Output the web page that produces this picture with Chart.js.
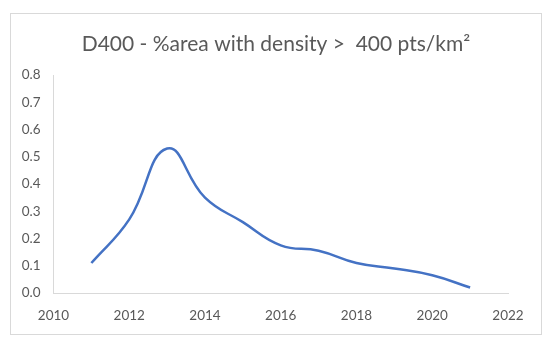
<!DOCTYPE html>
<html>
<head>
<meta charset="utf-8">
<script src="https://cdn.jsdelivr.net/npm/chart.js@4"></script>
<style>
    body { margin: 0; background: #fff; }
    #box {
        position: absolute;
        left: 10px; top: 13px;
        width: 530px; height: 320px;
        border: 1px solid #d9d9d9;
    }
</style>
</head>
<body>
<div id="box"><canvas id="area-chart" width="530" height="320"></canvas></div>
<script>
// Data
const years = [2011, 2012, 2013, 2014, 2015, 2016, 2017, 2018, 2019, 2020, 2021];
const areaShare = [0.11, 0.27, 0.53, 0.35, 0.26, 0.175, 0.155, 0.11, 0.09, 0.065, 0.02];
const xTicks = [2010, 2012, 2014, 2016, 2018, 2020, 2022];
const yTicks = [0, 0.1, 0.2, 0.3, 0.4, 0.5, 0.6, 0.7, 0.8];

const titleText = 'D400 - %area with density >  400 pts/km\u00B2';
const textColor = '#595959';
const axisColor = '#d9d9d9';
const fontFamily = 'Lato, "Open Sans", sans-serif';

const points = years.map((y, i) => ({ x: y, y: areaShare[i] }));

// Title centred on the whole box (the plot area is off-centre)
const boxTitle = {
    id: 'boxTitle',
    afterDraw(chart) {
        const c = chart.ctx;
        c.save();
        c.fillStyle = textColor;
        c.font = '21px ' + fontFamily;
        c.textAlign = 'center';
        c.textBaseline = 'middle';
        c.fillText(titleText, chart.width / 2, 30);
        c.restore();
    }
};

const ctx = document.getElementById('area-chart').getContext('2d');

new Chart(ctx, {
    type: 'scatter',
    data: {
        datasets: [{
            data: points,
            showLine: true,
            borderColor: '#4472C4',
            borderWidth: 2.5,
            pointRadius: 0,
            tension: 0.45,
            fill: false
        }]
    },
    options: {
        responsive: false,
        animation: false,
        layout: { padding: { left: 0, right: 33, top: 61, bottom: 10 } },
        plugins: {
            legend: { display: false },
            tooltip: { enabled: false },
            title: { display: false }
        },
        scales: {
            x: {
                type: 'linear',
                min: xTicks[0],
                max: xTicks[xTicks.length - 1],
                afterBuildTicks: axis => { axis.ticks = xTicks.map(v => ({ value: v })); },
                afterFit: axis => { axis.height = 31; },
                grid: { display: false, drawTicks: false },
                border: { color: axisColor, width: 1 },
                ticks: {
                    color: textColor,
                    font: { family: fontFamily, size: 13.5 },
                    padding: 15,
                    maxRotation: 0,
                    callback: v => String(v)
                }
            },
            y: {
                min: 0,
                max: 0.8,
                afterBuildTicks: axis => { axis.ticks = yTicks.map(v => ({ value: v })); },
                afterFit: axis => { axis.width = 42.5; },
                grid: { display: false, drawTicks: false },
                border: { color: axisColor, width: 1 },
                ticks: {
                    color: textColor,
                    font: { family: fontFamily, size: 13.5 },
                    padding: 13,
                    callback: v => v.toFixed(1)
                }
            }
        }
    },
    plugins: [boxTitle]
});
</script>
</body>
</html>
